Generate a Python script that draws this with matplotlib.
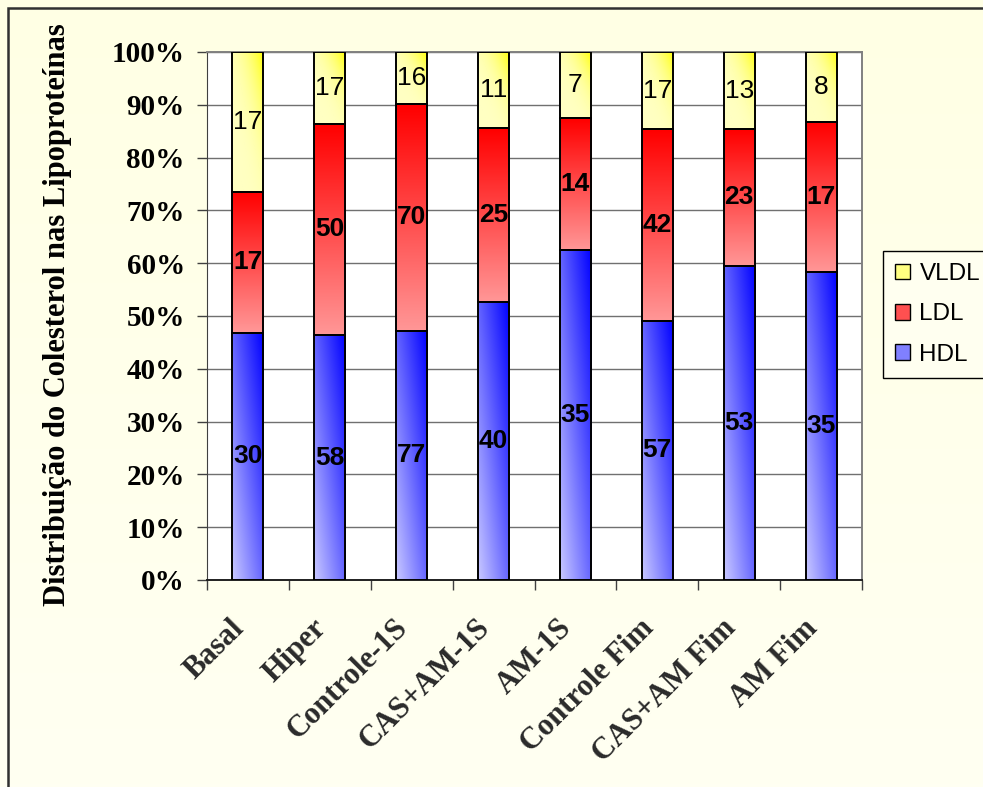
import numpy as np
import matplotlib
matplotlib.use("Agg")
import matplotlib.pyplot as plt
import matplotlib.transforms as mtransforms
from matplotlib.patches import Rectangle, Patch
from matplotlib.ticker import FixedLocator, PercentFormatter

# Cholesterol carried by each lipoprotein fraction, per group
groups = ["Basal", "Hiper", "Controle-1S", "CAS+AM-1S", "AM-1S",
          "Controle Fim", "CAS+AM Fim", "AM Fim"]
hdl = [30, 58, 77, 40, 35, 57, 53, 35]
ldl = [17, 50, 70, 25, 14, 42, 23, 17]
vldl = [17, 17, 16, 11, 7, 17, 13, 8]
series_names = ["HDL", "LDL", "VLDL"]

W, H = 983, 787
fig = plt.figure(figsize=(W / 100, H / 100), dpi=100)

# cream background with a faint vertical shade
bg = fig.add_axes([0, 0, 1, 1], zorder=-10)
bg.set_axis_off()
shade = np.linspace(0, 1, 256)[:, None]
c_top = np.array([255, 255, 228]) / 255
c_bot = np.array([255, 255, 242]) / 255
bg_img = c_bot[None, None, :] * (1 - shade[..., None]) + c_top[None, None, :] * shade[..., None]
bg.imshow(bg_img, extent=[0, 1, 0, 1], aspect="auto", origin="lower")
bg.set_xlim(0, 1)
bg.set_ylim(0, 1)

# outer frame (left and top edges visible)
fig.patches.append(Rectangle((8 / W, -0.2), 1.5, 1.2 - 8 / H,
                             transform=fig.transFigure, fill=False,
                             edgecolor="#303030", linewidth=1.8, zorder=5))

ax = fig.add_axes([207 / W, (H - 580) / H, 655 / W, 528 / H])
ax.set_facecolor("white")


def gradient(kind, n=64):
    u = np.linspace(0, 1, n)[None, :]
    v = np.linspace(0, 1, n)[:, None]
    if kind == "HDL":
        t = (u + v) / 2
        lo = np.array([200, 200, 255]); hi = np.array([0, 0, 255])
    elif kind == "LDL":
        t = np.repeat(v, n, axis=1)
        lo = np.array([255, 150, 150]); hi = np.array([255, 0, 0])
    else:
        t = (u + v) / 2
        t = t ** 3.5
        lo = np.array([255, 255, 195]); hi = np.array([255, 255, 0])
    img = lo[None, None, :] * (1 - t[..., None]) + hi[None, None, :] * t[..., None]
    return img / 255


x = np.arange(len(groups))
width = 0.38
data = np.array([hdl, ldl, vldl], dtype=float)
totals = data.sum(axis=0)
pct = data / totals * 100
bottoms = np.vstack([np.zeros(len(groups)), np.cumsum(pct, axis=0)[:-1]])

for s, name in enumerate(series_names):
    grad = gradient(name)
    bars = ax.bar(x, pct[s], width, bottom=bottoms[s], facecolor="none",
                  edgecolor="black", linewidth=1.4, zorder=4)
    for i, b in enumerate(bars):
        x0, y0 = b.get_x(), b.get_y()
        ax.imshow(grad, extent=[x0, x0 + b.get_width(), y0, y0 + b.get_height()],
                  aspect="auto", origin="lower", interpolation="bilinear", zorder=3)
        weight = "normal" if name == "VLDL" else "bold"
        ax.text(x[i], y0 + b.get_height() / 2, f"{int(data[s, i])}",
                ha="center", va="center", fontsize=19, fontweight=weight,
                family="Liberation Sans", color="black", zorder=6)

ax.set_xlim(-0.5, len(groups) - 0.5)
ax.set_ylim(0, 100)
ax.set_aspect("auto")

ax.yaxis.set_major_locator(FixedLocator(np.arange(0, 101, 10)))
ax.yaxis.set_major_formatter(PercentFormatter(decimals=0))
ax.grid(axis="y", color="#707070", linewidth=1.0, zorder=1)
ax.set_axisbelow(True)

# category names, slanted, hanging below each bar
ax.set_xticks(np.arange(-0.5, len(groups), 1))
ax.set_xticklabels([])
ax.tick_params(axis="x", length=7, width=1, color="#404040")
label_tf = ax.get_xaxis_transform() + mtransforms.ScaledTranslation(
    -0.08, -0.44, fig.dpi_scale_trans)
for i, name in enumerate(groups):
    ax.text(x[i], 0, name, transform=label_tf, rotation=45,
            rotation_mode="anchor", ha="right", va="center", fontsize=22,
            fontweight="bold", family="Liberation Serif", color="#2a2a2a",
            clip_on=False)

for lbl in ax.get_yticklabels():
    lbl.set_fontsize(21)
    lbl.set_fontweight("bold")
    lbl.set_family("Liberation Serif")
ax.tick_params(axis="y", length=7, width=1, color="#404040", pad=9)

for side in ["top", "right"]:
    ax.spines[side].set_color("#808080")
    ax.spines[side].set_linewidth(1.4)
ax.spines["left"].set_color("#404040")
ax.spines["bottom"].set_color("#202020")
ax.spines["bottom"].set_linewidth(1.4)

fig.text(58 / W, 1 - 315 / H, "Distribuição do Colesterol nas Lipoproteínas",
         rotation=90, ha="center", va="center", fontsize=22, fontweight="bold",
         family="Liberation Serif", color="black")

handles = [Patch(facecolor="#FFFF80", edgecolor="black", linewidth=1),
           Patch(facecolor="#FF5050", edgecolor="black", linewidth=1),
           Patch(facecolor="#8080FF", edgecolor="black", linewidth=1)]
leg = fig.legend(handles, ["VLDL", "LDL", "HDL"], loc="upper left",
                 bbox_to_anchor=(883 / W, 1 - 251 / H), borderaxespad=0,
                 prop={"family": "Liberation Sans", "size": 17.5},
                 handlelength=0.6, handleheight=0.6, handletextpad=0.4,
                 labelspacing=0.75, borderpad=0.5, fancybox=False,
                 framealpha=1, facecolor="#FFFFF0", edgecolor="black")
leg.get_frame().set_linewidth(1.0)

fig.savefig("out.png", dpi=100)
